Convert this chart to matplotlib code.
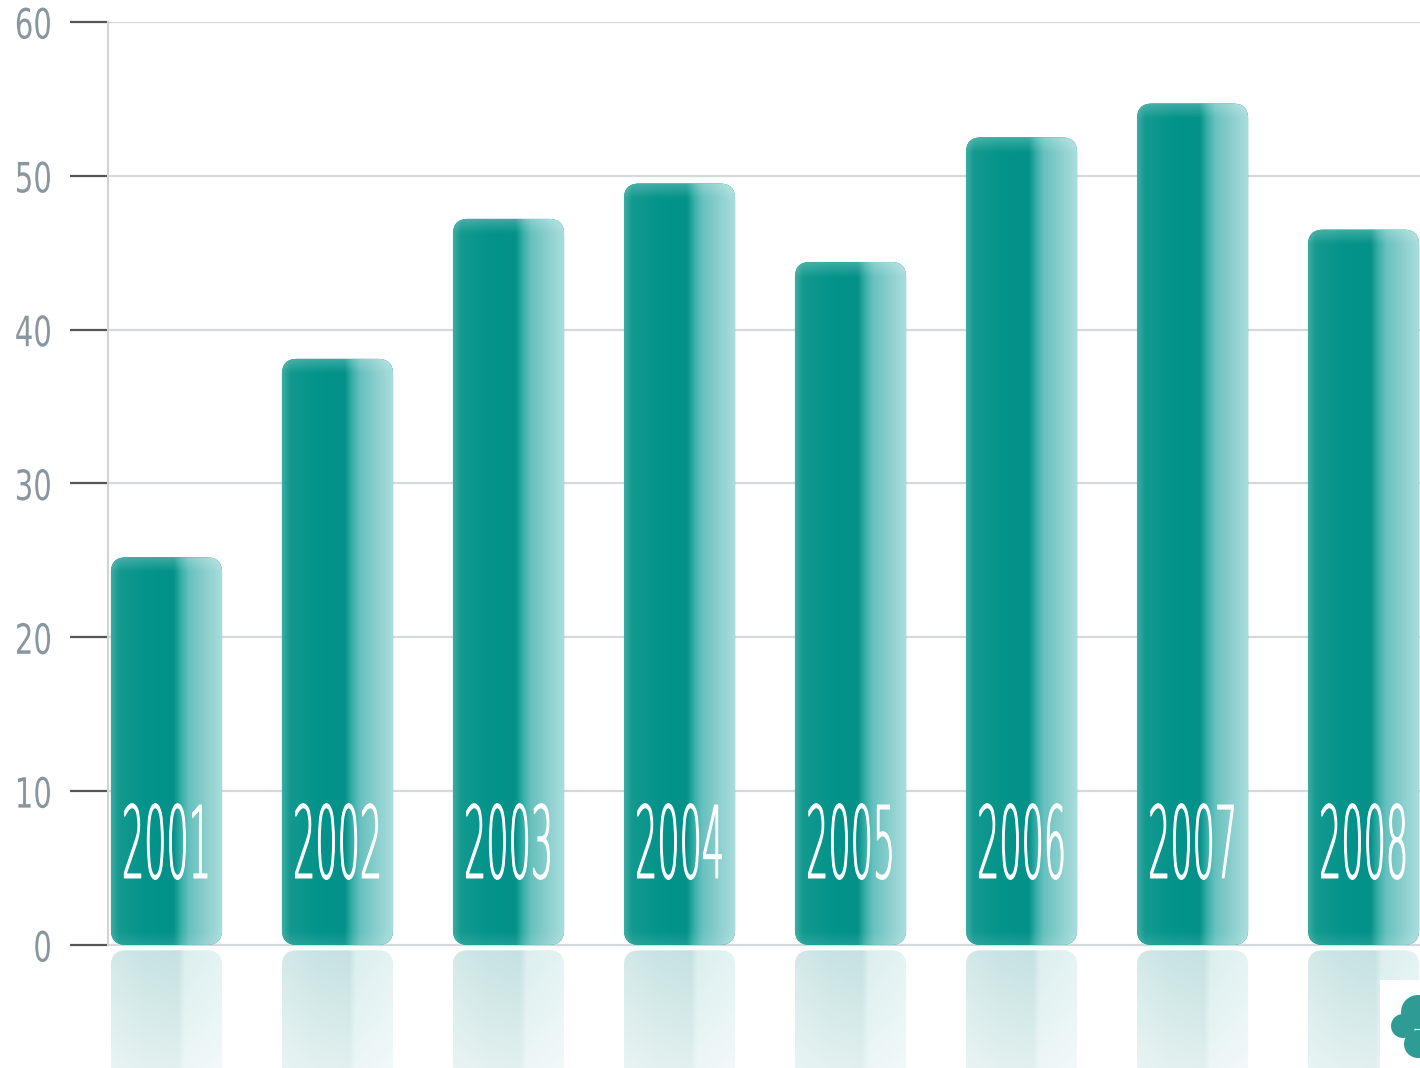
import numpy as np
import matplotlib
matplotlib.use("Agg")
import matplotlib.pyplot as plt
import matplotlib.patheffects as pe
from matplotlib.patches import FancyBboxPatch, Rectangle, Ellipse
from matplotlib.transforms import Affine2D
from matplotlib.colors import to_rgb

# data
years = ["2001", "2002", "2003", "2004", "2005", "2006", "2007", "2008"]
values = [25.2, 38.1, 47.2, 49.5, 44.4, 52.5, 54.7, 46.5]
yticks = [0, 10, 20, 30, 40, 50, 60]

W, H = 1420, 1068
fig = plt.figure(figsize=(W / 100, H / 100), dpi=100)
ax = fig.add_axes([108 / W, 0, 1 - 108 / W, 1 - 22 / H])
ax.set_xlim(-0.342, 7.33)
ax.set_ylim(-8.0, 60)

# pixels per data unit, used for rounded corners
pxx = (1 - 108 / W) * W / (7.33 + 0.342)
pxy = (1 - 22 / H) * H / 68.0
aspect = pxx / pxy

bar_w = 0.65
rad = 15 / pxx


class Stretch(pe.AbstractPathEffect):
    # squeezes / stretches the glyphs of a text around its anchor point
    def __init__(self, text, sx, sy, lw=0.0, color=None):
        super().__init__()
        self.text, self.sx, self.sy = text, sx, sy
        self.lw, self.color = lw, color

    def draw_path(self, renderer, gc, tpath, affine, rgbFace=None):
        t = self.text
        cx, cy = t.get_transform().transform(t.get_unitless_position())
        a = affine + Affine2D().translate(-cx, -cy).scale(self.sx, self.sy).translate(cx, cy)
        gc0 = renderer.new_gc()
        gc0.copy_properties(gc)
        if self.lw > 0:
            gc0.set_linewidth(self.lw)
            gc0.set_foreground(self.color)
        renderer.draw_path(gc0, tpath, a, rgbFace)
        gc0.restore()


def col_stops(stops, n):
    pos = np.array([s[0] for s in stops])
    cols = np.array([to_rgb(s[1]) for s in stops])
    t = np.linspace(0, 1, n)
    return np.stack([np.interp(t, pos, cols[:, k]) for k in range(3)], axis=1)


bar_stops = [(0.0, "#3aaca5"), (0.07, "#14998f"), (0.3, "#04948b"),
             (0.56, "#039189"), (0.63, "#3aafa9"), (0.7, "#68c1be"),
             (0.88, "#92d2d1"), (1.0, "#aadedd")]
refl_stops = [(0.0, "#d2e9e8"), (0.3, "#c8e3e2"), (0.6, "#c4e1e0"),
              (0.66, "#dbeeee"), (1.0, "#e4f3f3")]


def glossy_bar(x, h):
    x0 = x - bar_w / 2
    patch = FancyBboxPatch((x0, 0), bar_w, h,
                           boxstyle="round,pad=0,rounding_size=%f" % rad,
                           mutation_aspect=aspect, fc="#00938a", ec="none",
                           zorder=3)
    ax.add_patch(patch)
    rows = 300
    cols = col_stops(bar_stops, 160)
    yy = np.linspace(0, h, rows)
    light = 0.22 * np.clip(1 - (h - yy) / 0.9, 0, 1)
    light += 0.10 * np.clip(1 - yy / 0.8, 0, 1)
    img = cols[None, :, :] * (1 - light[:, None, None]) + light[:, None, None]
    im = ax.imshow(img, extent=[x0, x0 + bar_w, 0, h], origin="lower",
                   aspect="auto", zorder=4, interpolation="bilinear")
    im.set_clip_path(patch)

    # reflection under the baseline
    rtop = -0.35
    rpatch = FancyBboxPatch((x0, -9.5), bar_w, 9.5 + rtop,
                            boxstyle="round,pad=0,rounding_size=%f" % rad,
                            mutation_aspect=aspect, fc="none", ec="none",
                            zorder=2)
    ax.add_patch(rpatch)
    rc = col_stops(refl_stops, 160)
    ry = np.linspace(rtop, -8.0, rows)
    fade = 0.5 * (rtop - ry) / (rtop + 8.0)
    rimg = rc[None, :, :] * (1 - fade[:, None, None]) + fade[:, None, None]
    rim = ax.imshow(rimg, extent=[x0, x0 + bar_w, -8.0, rtop], origin="upper",
                    aspect="auto", zorder=2, interpolation="bilinear")
    rim.set_clip_path(rpatch)


for i, (yr, v) in enumerate(zip(years, values)):
    glossy_bar(i, v)
    # year label, tall and narrow like the original
    txt = ax.text(i, (945 - 878) / pxy, yr, ha="center", va="baseline",
                  fontsize=30, family="DejaVu Sans", weight=200,
                  color="white", zorder=6)
    txt.set_path_effects([Stretch(txt, 0.84, 2.4, lw=0.8, color="white")])

ax.set_xlim(-0.342, 7.33)
ax.set_ylim(-8.0, 60)

# grid, spine, ticks
for t in yticks:
    ax.axhline(t, color="#d5d9dc", lw=1.6, zorder=1)
for s in ["top", "right", "bottom"]:
    ax.spines[s].set_visible(False)
ax.spines["left"].set_bounds(0, 60)
ax.spines["left"].set_color("#d3d3d3")
ax.spines["left"].set_linewidth(1.5)
ax.set_xticks([])
ax.set_yticks(yticks)
ax.set_yticklabels([str(t) for t in yticks], family="DejaVu Sans",
                   fontsize=30, color="#8a969e")
ax.tick_params(axis="y", length=27.4, width=1.6, color="#555555", pad=13)
for lab in ax.get_yticklabels():
    lab.set_path_effects([Stretch(lab, 0.7, 1.0)])
ax.patch.set_alpha(0)

# little logo in the corner
fig.patches.append(Rectangle((1380 / W, 0), 40 / W, 88 / H, fc="white",
                             ec="none", transform=fig.transFigure, zorder=10))
for cx, cy, r in [(1418, 1012, 17), (1403, 1026, 12), (1418, 1044, 14)]:
    fig.patches.append(Ellipse((cx / W, 1 - cy / H), 2 * r / W, 2 * r / H,
                               fc="#2e9c95", ec="none",
                               transform=fig.transFigure, zorder=11))

fig.savefig("out.png", dpi=100)
